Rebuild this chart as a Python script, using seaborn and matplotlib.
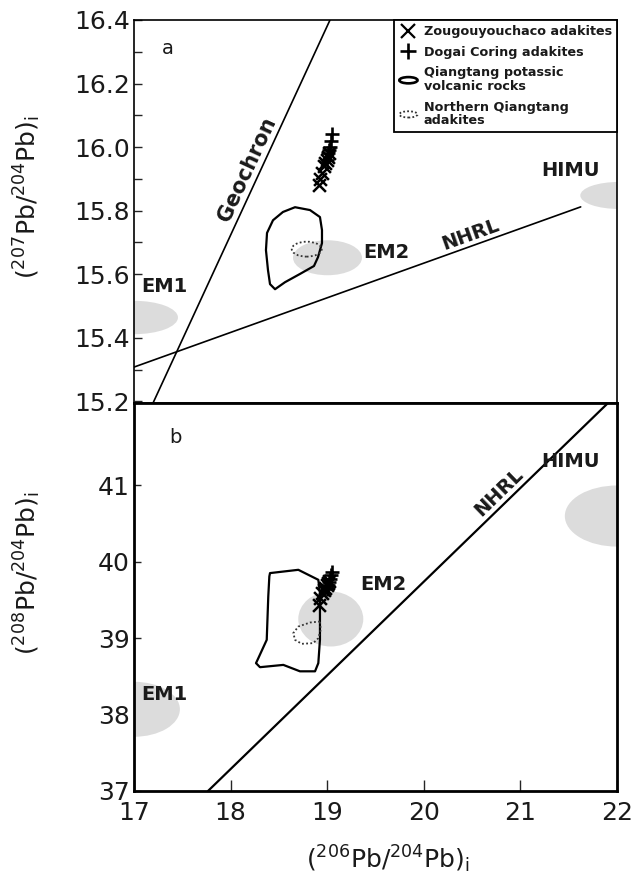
import numpy as np
import matplotlib
matplotlib.use("Agg")
import matplotlib.pyplot as plt
import matplotlib.patches as mpatches
from matplotlib.lines import Line2D
from matplotlib.legend_handler import HandlerPatch
from matplotlib.ticker import MultipleLocator, FormatStrFormatter
import seaborn as sns

# ------------------------------------------------------------------ data
# Zougouyouchaco adakites (x markers)
zg_206 = [18.91, 18.93, 18.95, 18.97, 18.98, 19.00, 19.01, 19.02]
zg_207 = [15.88, 15.90, 15.92, 15.94, 15.95, 15.96, 15.97, 15.98]
zg_208 = [39.44, 39.53, 39.59, 39.63, 39.66, 39.70, 39.72, 39.75]
# Dogai Coring adakites (+ markers)
dc_206 = [19.00, 19.01, 19.02, 19.03, 19.04, 19.05]
dc_207 = [15.96, 15.98, 15.99, 16.00, 16.02, 16.04]
dc_208 = [39.64, 39.70, 39.74, 39.78, 39.83, 39.87]

# reference lines (end points)
geochron_206 = [17.197, 19.029]
geochron_207 = [15.195, 16.40]
nhrl_a_206 = [17.0, 21.624]
nhrl_a_207 = [15.308, 15.812]
nhrl_b_206 = [17.766, 21.907]
nhrl_b_208 = [37.0, 42.08]

# Qiangtang potassic volcanic rocks field
qk_a_206 = [18.667, 18.822, 18.925, 18.946, 18.946, 18.905, 18.863, 18.718,
            18.563, 18.460, 18.408, 18.387, 18.366, 18.377, 18.439, 18.542]
qk_a_207 = [15.811, 15.802, 15.780, 15.739, 15.698, 15.654, 15.626, 15.601,
            15.575, 15.553, 15.569, 15.613, 15.676, 15.730, 15.770, 15.796]
qk_b_206 = [18.408, 18.701, 18.908, 18.925, 18.925, 18.908, 18.874, 18.718,
            18.546, 18.304, 18.263, 18.287, 18.374, 18.390, 18.401]
qk_b_208 = [39.853, 39.896, 39.765, 39.591, 38.979, 38.674, 38.567, 38.567,
            38.651, 38.621, 38.674, 38.739, 38.979, 39.547, 39.809]

# Northern Qiangtang adakites field
nq_a_center = (18.788, 15.679)
nq_a_size = (0.31, 0.047)
nq_b_206 = [18.925, 18.822, 18.701, 18.649, 18.667, 18.736, 18.856, 18.908, 18.933]
nq_b_208 = [39.219, 39.206, 39.153, 39.067, 38.979, 38.927, 38.936, 39.001, 39.110]

# mantle end-members: name, centre x, centre y, width, height
mantle_names = ["EM1", "EM2", "HIMU"]
mantle_a_x = [17.00, 19.003, 22.02]
mantle_a_y = [15.464, 15.652, 15.848]
mantle_a_w = [0.91, 0.714, 0.80]
mantle_a_h = [0.105, 0.11, 0.085]
mantle_b_x = [17.00, 19.037, 22.00]
mantle_b_y = [38.07, 39.252, 40.60]
mantle_b_w = [0.95, 0.673, 1.08]
mantle_b_h = [0.72, 0.72, 0.80]
# label positions for end-members
mlab_a_x = [17.08, 19.37, 21.22]
mlab_a_y = [15.563, 15.668, 15.928]
mlab_b_x = [17.08, 19.34, 21.22]
mlab_b_y = [38.26, 39.70, 41.31]

x_ticks = [17, 18, 19, 20, 21, 22]
ya_ticks = [15.2, 15.4, 15.6, 15.8, 16.0, 16.2, 16.4]
yb_ticks = [37, 38, 39, 40, 41]

legend_labels = ["Zougouyouchaco adakites", "Dogai Coring adakites",
                 "Qiangtang potassic\nvolcanic rocks",
                 "Northern Qiangtang\nadakites"]

# ------------------------------------------------------------------ style
sns.set_style("white")
plt.rcParams["font.family"] = ["DejaVu Sans"]
plt.rcParams["mathtext.fontset"] = "dejavusans"

W, H = 635, 884
fig = plt.figure(figsize=(W / 100, H / 100), dpi=100)
L, R = 134, 617
T, M, B = 20, 403, 791
ax1 = fig.add_axes([L / W, 1 - M / H, (R - L) / W, (M - T) / H])
ax2 = fig.add_axes([L / W, 1 - B / H, (R - L) / W, (B - M) / H])

GRAY = "#dcdcdc"
INK = "#1a1a1a"


def add_fields(ax, xs, ys, ws, hs):
    for cx, cy, w, h in zip(xs, ys, ws, hs):
        ax.add_patch(mpatches.Ellipse((cx, cy), w, h, facecolor=GRAY,
                                      edgecolor="none", zorder=1))


def line_angle(ax, xs, ys):
    p = ax.transData.transform(np.column_stack([xs, ys]))
    d = p[1] - p[0]
    return np.degrees(np.arctan2(d[1], d[0]))


def label_on_line(ax, text, xs, ys, x_at, offset_px, size):
    slope = (ys[1] - ys[0]) / (xs[1] - xs[0])
    y_at = ys[0] + slope * (x_at - xs[0])
    ang = line_angle(ax, xs, ys)
    r = np.radians(ang)
    off = offset_px * 72 / 100
    ax.annotate(text, xy=(x_at, y_at),
                xytext=(-np.sin(r) * off, np.cos(r) * off),
                textcoords="offset points", rotation=ang,
                rotation_mode="anchor", ha="center", va="center",
                fontweight="bold", fontsize=size, color=INK)


# ------------------------------------------------------------------ panel a
ax1.set_xlim(17, 22)
ax1.set_ylim(15.195, 16.4)
add_fields(ax1, mantle_a_x, mantle_a_y, mantle_a_w, mantle_a_h)
sns.lineplot(x=geochron_206, y=geochron_207, color="black", lw=1.2,
             sort=False, estimator=None, ax=ax1, zorder=2)
sns.lineplot(x=nhrl_a_206, y=nhrl_a_207, color="black", lw=1.2,
             sort=False, estimator=None, ax=ax1, zorder=2)
ax1.fill(qk_a_206, qk_a_207, facecolor="none", edgecolor="black", lw=1.6,
         joinstyle="round", zorder=3)
ax1.add_patch(mpatches.Ellipse(nq_a_center, *nq_a_size, fill=False,
                               edgecolor="#333333", lw=1.3,
                               linestyle=(0, (1, 1.3)), zorder=3))
sns.scatterplot(x=zg_206, y=zg_207, marker="x", color="black", s=85,
                linewidth=1.8, ax=ax1, zorder=5)
sns.scatterplot(x=dc_206, y=dc_207, marker="+", color="black", s=105,
                linewidth=1.9, ax=ax1, zorder=5)
for n, x, y in zip(mantle_names, mlab_a_x, mlab_a_y):
    ax1.text(x, y, n, ha="left", va="center", fontweight="bold",
             fontsize=14, color=INK, zorder=6)
label_on_line(ax1, "Geochron", geochron_206, geochron_207, 18.29, 13, 15)
label_on_line(ax1, "NHRL", nhrl_a_206, nhrl_a_207, 20.52, 11, 14)
ax1.text(0.07, 0.925, "a", transform=ax1.transAxes, fontsize=14,
         ha="center", va="center", color=INK)

ax1.set_xticks(x_ticks)
ax1.set_yticks(ya_ticks)
ax1.yaxis.set_minor_locator(MultipleLocator(0.1))
ax1.yaxis.set_major_formatter(FormatStrFormatter("%.1f"))
ax1.tick_params(axis="x", direction="in", length=8, width=1,
                labelbottom=False)
ax1.tick_params(axis="y", which="both", direction="in", length=5.5, width=1,
                labelsize=18, pad=3, left=True, labelcolor=INK)
ax1.set_ylabel(r"($^{207}$Pb/$^{204}$Pb)$_{\mathregular{i}}$", fontsize=18,
               color=INK)
ax1.yaxis.set_label_coords(-0.188, 0.538)
for s in ax1.spines.values():
    s.set_linewidth(1.2)
    s.set_color("black")

leg_handles = [
    Line2D([], [], marker="x", ls="none", color="black", markersize=10,
           markeredgewidth=1.6),
    Line2D([], [], marker="+", ls="none", color="black", markersize=12,
           markeredgewidth=1.9),
    mpatches.Ellipse((0, 0), 1, 1, fill=False, edgecolor="black", lw=1.9),
    mpatches.Ellipse((0, 0), 1, 1, fill=False, edgecolor="#333333", lw=1.3,
                     linestyle=(0, (1, 1.2))),
]


class HandlerEllipse(HandlerPatch):
    def create_artists(self, legend, orig_handle, xdescent, ydescent, width,
                       height, fontsize, trans):
        center = (0.5 * width - xdescent, 0.5 * height - ydescent)
        p = mpatches.Ellipse(xy=center, width=width * 0.95,
                             height=height * 0.7)
        self.update_prop(p, orig_handle, legend)
        p.set_transform(trans)
        return [p]


leg = ax1.legend(leg_handles, legend_labels, loc="upper right",
                 bbox_to_anchor=(1.0, 1.0), borderaxespad=0,
                 prop={"weight": "bold", "size": 9.2}, frameon=True,
                 fancybox=False, framealpha=1, edgecolor="black",
                 handlelength=1.5, handletextpad=0.45, borderpad=0.4,
                 labelspacing=0.6,
                 handler_map={mpatches.Ellipse: HandlerEllipse()})
leg.get_frame().set_linewidth(1.3)
for t in leg.get_texts():
    t.set_linespacing(1.05)
    t.set_color(INK)

# ------------------------------------------------------------------ panel b
ax2.set_xlim(17, 22)
ax2.set_ylim(37, 42.08)
add_fields(ax2, mantle_b_x, mantle_b_y, mantle_b_w, mantle_b_h)
sns.lineplot(x=nhrl_b_206, y=nhrl_b_208, color="black", lw=1.6,
             sort=False, estimator=None, ax=ax2, zorder=2)
ax2.fill(qk_b_206, qk_b_208, facecolor="none", edgecolor="black", lw=1.6,
         joinstyle="round", zorder=3)
ax2.fill(nq_b_206, nq_b_208, facecolor="none", edgecolor="#333333", lw=1.3,
         linestyle=(0, (1, 1.3)), zorder=3)
sns.scatterplot(x=zg_206, y=zg_208, marker="x", color="black", s=85,
                linewidth=1.8, ax=ax2, zorder=5)
sns.scatterplot(x=dc_206, y=dc_208, marker="+", color="black", s=105,
                linewidth=1.9, ax=ax2, zorder=5)
for n, x, y in zip(mantle_names, mlab_b_x, mlab_b_y):
    ax2.text(x, y, n, ha="left", va="center", fontweight="bold",
             fontsize=14, color=INK, zorder=6)
label_on_line(ax2, "NHRL", nhrl_b_206, nhrl_b_208, 20.86, 12, 14)
ax2.text(0.085, 0.912, "b", transform=ax2.transAxes, fontsize=14,
         ha="center", va="center", color=INK)

ax2.set_xticks(x_ticks)
ax2.set_yticks(yb_ticks)
ax2.tick_params(axis="x", direction="in", length=8, width=1, labelsize=18,
                pad=7, bottom=True, labelcolor=INK)
ax2.tick_params(axis="y", direction="in", length=5, width=1, labelsize=18,
                pad=3, left=True, labelcolor=INK)
ax2.set_ylabel(r"($^{208}$Pb/$^{204}$Pb)$_{\mathregular{i}}$", fontsize=18,
               color=INK)
ax2.yaxis.set_label_coords(-0.188, 0.562)
ax2.set_xlabel(r"($^{206}$Pb/$^{204}$Pb)$_{\mathregular{i}}$", fontsize=18,
               color=INK)
ax2.xaxis.set_label_coords(0.525, -0.135)
for s in ax2.spines.values():
    s.set_linewidth(2.0)
    s.set_color("black")

fig.savefig("out.png", dpi=100)
